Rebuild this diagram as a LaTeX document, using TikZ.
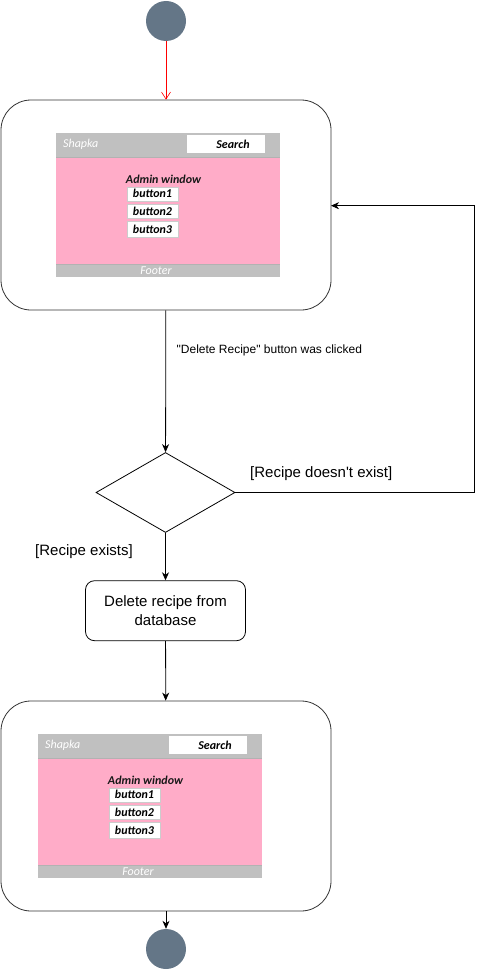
\documentclass[tikz,border=0pt]{standalone}
\usepackage{fontspec}
\setmainfont{Liberation Sans}
\newfontfamily\calfont{Carlito}
\usetikzlibrary{arrows.meta,shapes.geometric}
\definecolor{slate}{RGB}{100,118,135}
\definecolor{mockgray}{RGB}{192,192,192}
\definecolor{mockpink}{RGB}{255,172,200}
\tikzset{
  startend/.style={circle,fill=slate,draw=none,minimum size=40pt,inner sep=0pt},
  bigstate/.style={draw=black!80,rounded corners=30pt,minimum width=330pt,minimum height=210pt,inner sep=0pt,line width=0.8pt},
  action/.style={draw=black,rounded corners=9pt,minimum width=160pt,minimum height=60pt,inner sep=0pt,align=center,font=\fontsize{15pt}{18.7pt}\selectfont,line width=0.8pt},
  decision/.style={diamond,draw=black,minimum width=139pt,minimum height=80pt,inner sep=0pt,aspect=1.74,line width=0.8pt},
  flow/.style={-{Stealth[length=8pt,width=7pt,inset=2.5pt]},line width=0.8pt},
  redflow/.style={-{Straight Barb[length=7pt,width=9pt]},red,line width=0.6pt},
  lbl/.style={font=\fontsize{15pt}{18pt}\selectfont,inner sep=0pt},
  smalllbl/.style={font=\fontsize{12pt}{14pt}\selectfont,inner sep=0pt},
  mocktxt/.style={font=\calfont\fontsize{12pt}{14pt}\selectfont\itshape,inner sep=0pt},
  mockbtn/.style={draw=black!20,fill=white,minimum width=51pt,inner sep=0pt,font=\calfont\fontsize{12pt}{14pt}\selectfont\bfseries\itshape},
}
\newcommand\mymockup[3]{%
  \begin{scope}[shift={(#2,#3)}]
    \fill[mockgray] (0,0) rectangle (224,24);
    \fill[mockpink] (0,24) rectangle (224,131);
    \draw[black!30,line width=0.8pt] (0,24) -- (224,24);
    \fill[mockgray] (0,131) rectangle (224,144);
    \draw[black!30,line width=0.6pt] (0,131) -- (224,131);
    \node[fill=white,minimum width=78pt,minimum height=18pt,inner sep=0pt] (#1search) at (170,11) {};
    \node[mocktxt,font=\calfont\fontsize{12pt}{14pt}\selectfont\bfseries\itshape] (#1searchtxt) at (177,11) {Search};
    \node[mocktxt,text=white,anchor=west] (#1shapka) at (7,11) {Shapka};
    \node[mocktxt,font=\calfont\fontsize{12pt}{14pt}\selectfont\bfseries\itshape,text=black!90] (#1admin) at (107.5,46) {Admin window};
    \node[mockbtn,minimum height=14pt] (#1b1) at (96.5,60.7) {button1};
    \node[mockbtn,minimum height=14pt] (#1b2) at (96.5,78) {button2};
    \node[mockbtn,minimum height=16pt] (#1b3) at (96.5,96) {button3};
    \node[mocktxt,text=white] (#1footer) at (100,138) {Footer};
  \end{scope}}
\begin{document}
\begin{tikzpicture}[x=1pt,y=-1pt]
\useasboundingbox (0,0) rectangle (484,971);
\node[startend] (start) at (166,21) {};
\node[bigstate] (top) at (166,205) {};
\mymockup{t}{56}{133}
\node[decision] (dec) at (165.5,492.5) {};
\node[action] (act) at (165.5,610.7) {Delete recipe from\\database};
\node[bigstate] (bot) at (166,806) {};
\mymockup{m}{38}{734}
\node[startend] (final) at (166,949) {};
\coordinate (c1) at (474.7,492.5);
\coordinate (c2) at (474.7,205.7);
\coordinate (c3) at (331,205.7);
\draw[redflow] (start) -- (top);
\draw[flow] (top) -- (dec);
\node[smalllbl,anchor=west] (l1) at (176.5,350) {\textquotedbl Delete Recipe\textquotedbl{} button was clicked};
\draw[flow] (dec.east) -- (c1) -- (c2) -- (c3);
\node[lbl,anchor=west] (l2) at (250,474) {[Recipe doesn\textquotesingle t exist]};
\draw[flow] (dec) -- (act);
\node[lbl,anchor=west] (l3) at (35,551.7) {[Recipe exists]};
\draw[flow] (act) -- (bot);
\draw[flow] (bot) -- (final);
\end{tikzpicture}
\end{document}
